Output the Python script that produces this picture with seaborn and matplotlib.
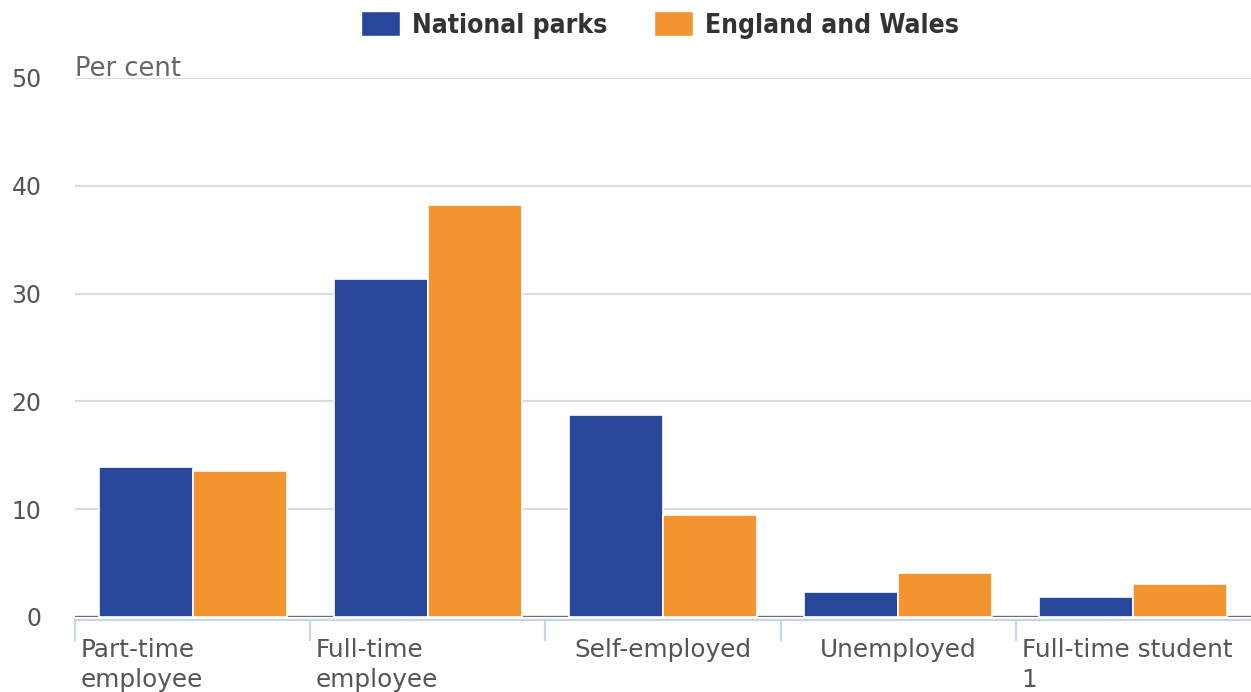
import matplotlib
matplotlib.use("Agg")
import matplotlib.pyplot as plt
import matplotlib.transforms as mtransforms
from matplotlib.patches import Patch
import seaborn as sns
import pandas as pd

# Economic activity of residents aged 16-74, per cent
categories = ["Part-time employee", "Full-time employee", "Self-employed",
              "Unemployed", "Full-time student 1"]
national_parks = [13.9, 31.4, 18.7, 2.3, 1.9]
england_wales = [13.5, 38.2, 9.5, 4.1, 3.1]
series_names = ["National parks", "England and Wales"]
y_ticks = [0, 10, 20, 30, 40, 50]

tick_labels = [("Part-time\nemployee", "left"), ("Full-time\nemployee", "left"),
               ("Self-employed", "center"), ("Unemployed", "center"),
               ("Full-time student\n1", "left")]

NAVY = "#27479a"
ORANGE = "#f49431"

df = pd.DataFrame({
    "category": categories * 2,
    "value": national_parks + england_wales,
    "series": [series_names[0]] * len(categories) + [series_names[1]] * len(categories),
})

sns.set_theme(style="white")
plt.rcParams["font.family"] = ["DejaVu Sans"]

fig = plt.figure(figsize=(12.51, 6.92), dpi=100)
ax = fig.add_axes([75 / 1251, 1 - 617 / 692, 1 - 75 / 1251, (617 - 78) / 692])

# grid and zero line behind the bars
for v in y_ticks[1:]:
    ax.axhline(v, color="#dcdcdc", lw=1.6, zorder=0)
ax.axhline(0, color="#707070", lw=2.4, zorder=1.5)

sns.barplot(data=df, x="category", y="value", hue="series", order=categories,
            hue_order=series_names, palette=[NAVY, ORANGE], width=0.8,
            edgecolor="white", linewidth=1.2, saturation=1, legend=False,
            ax=ax, zorder=2)

ax.set_xlim(-0.5, len(categories) - 0.5)
ax.set_ylim(0, 50)
ax.set_xlabel("")
ax.set_ylabel("")

for side in ["top", "right", "left"]:
    ax.spines[side].set_visible(False)
ax.spines["bottom"].set_color("#c9d5e4")
ax.spines["bottom"].set_linewidth(1.6)
ax.spines["bottom"].set_position(("outward", 2))
ax.spines["bottom"].set_zorder(1)

ax.set_yticks(y_ticks)
ax.set_yticklabels([str(v) for v in y_ticks], fontsize=17, color="#555555")
ax.tick_params(axis="y", left=False, length=0, pad=24)
for lab in ax.get_yticklabels():
    lab.set_horizontalalignment("right")

# category boundary ticks and labels
ax.set_xticks([i - 0.5 for i in range(len(categories))])
ax.set_xticklabels([])
ax.tick_params(axis="x", bottom=True, length=15, width=1.6, color="#c9d5e4",
               direction="out")

trans = mtransforms.blended_transform_factory(ax.transData, fig.transFigure)
for i, (text, align) in enumerate(tick_labels):
    if align == "left":
        x = i - 0.5 + 0.025
    else:
        x = i
    ax.text(x, 1 - 638 / 692, text, transform=trans, ha=align, va="top",
            fontsize=17.8, color="#555555", linespacing=1.3,
            multialignment="left")

ax.text(0, 1.0 + 2 / 539, "Per cent", transform=ax.transAxes, ha="left",
        va="baseline", fontsize=18.5, color="#666666")

handles = [Patch(facecolor=NAVY, edgecolor="white"),
           Patch(facecolor=ORANGE, edgecolor="white")]
leg = fig.legend(handles, series_names, loc="center",
                 bbox_to_anchor=(660 / 1251, 1 - 25 / 692),
                 ncol=2, frameon=False, handlelength=1.45, handleheight=1.05,
                 handletextpad=0.45, columnspacing=1.8,
                 prop={"family": "DejaVu Sans", "weight": "bold",
                       "stretch": "condensed", "size": 19})
for t in leg.get_texts():
    t.set_color("#333333")

fig.savefig("out.png", dpi=100)
